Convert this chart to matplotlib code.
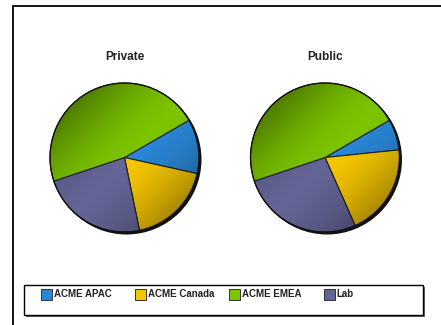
import numpy as np
from matplotlib import pyplot as plt
import matplotlib.patches as patches

plt.rcParams['font.family'] = ['Liberation Sans', 'DejaVu Sans']

regions = ['ACME APAC', 'ACME Canada', 'ACME EMEA', 'Lab']
colors = ['#2a86d6', '#f5c600', '#7cc400', '#646496']

private_share = [11.8, 18.3, 46.8, 23.1]
public_share = [6.7, 20.0, 46.8, 26.5]

# slices go round clockwise in this order
draw_order = [0, 1, 3, 2]

W, H = 441, 325
fig = plt.figure(figsize=(W / 100, H / 100), dpi=100)
ax = fig.add_axes([0, 0, 1, 1])


def shaded_pie(ax, values, cx, cy, r, title):
    vals = [values[i] for i in draw_order]
    cols = [colors[i] for i in draw_order]

    # drop shadow
    ax.add_patch(patches.Circle((cx + 2, cy - 2), r + 0.5, facecolor='#111111',
                                edgecolor='none', zorder=1))

    wedges, _ = ax.pie(vals, colors=cols, startangle=30, counterclock=False,
                       center=(cx, cy), radius=r,
                       wedgeprops=dict(edgecolor='#222222', linewidth=0.8),
                       frame=True)
    for w in wedges:
        w.set_zorder(2)

    # diagonal light/dark shading over the disc
    n = 200
    xs = np.linspace(-1, 1, n)
    gx, gy = np.meshgrid(xs, xs[::-1])
    t = (gx - gy) / np.sqrt(2)
    alpha = 0.34 * np.clip(np.abs(t - 0.05), 0, 1) ** 1.6
    img = np.zeros((n, n, 4))
    img[..., 3] = alpha
    im = ax.imshow(img, extent=(cx - r, cx + r, cy - r, cy + r), zorder=3,
                   interpolation='bilinear')
    clip = patches.Circle((cx, cy), r, transform=ax.transData)
    im.set_clip_path(clip)

    ax.add_patch(patches.Circle((cx, cy), r, facecolor='none',
                                edgecolor='#111111', linewidth=0.9, zorder=4))

    ax.text(cx, cy + 100.5, title, ha='center', va='center',
            fontsize=8.5, fontweight='bold', color='#222222')


shaded_pie(ax, private_share, 124.5, 167.5, 74.5, 'Private')
shaded_pie(ax, public_share, 325, 167.5, 74.5, 'Public')

# outer frame
ax.plot([13.3, 13.3, W + 5], [-5, 319, 319], color='black', lw=1.3,
        solid_joinstyle='miter', zorder=5)

# legend box with shadow
ax.add_patch(patches.Rectangle((26.3, 8), 398.4, 30, facecolor='#666666',
                               edgecolor='none', zorder=5))
ax.add_patch(patches.Rectangle((24.3, 10), 398.4, 30, facecolor='white',
                               edgecolor='black', linewidth=1, zorder=6))
for i, (lab, col) in enumerate(zip(regions, colors)):
    x0 = 41 + i * 94.2
    ax.add_patch(patches.Rectangle((x0, 25.5), 11, 11, facecolor=col,
                                   edgecolor='#333333', linewidth=0.7, zorder=7))
    ax.text(x0 + 13, 31, lab, ha='left', va='center', fontsize=7,
            fontweight='bold', color='#222222', zorder=7)

ax.set_xlim(0, W)
ax.set_ylim(0, H)
ax.set_aspect('auto')
ax.axis('off')

fig.savefig('out.png', dpi=100)
